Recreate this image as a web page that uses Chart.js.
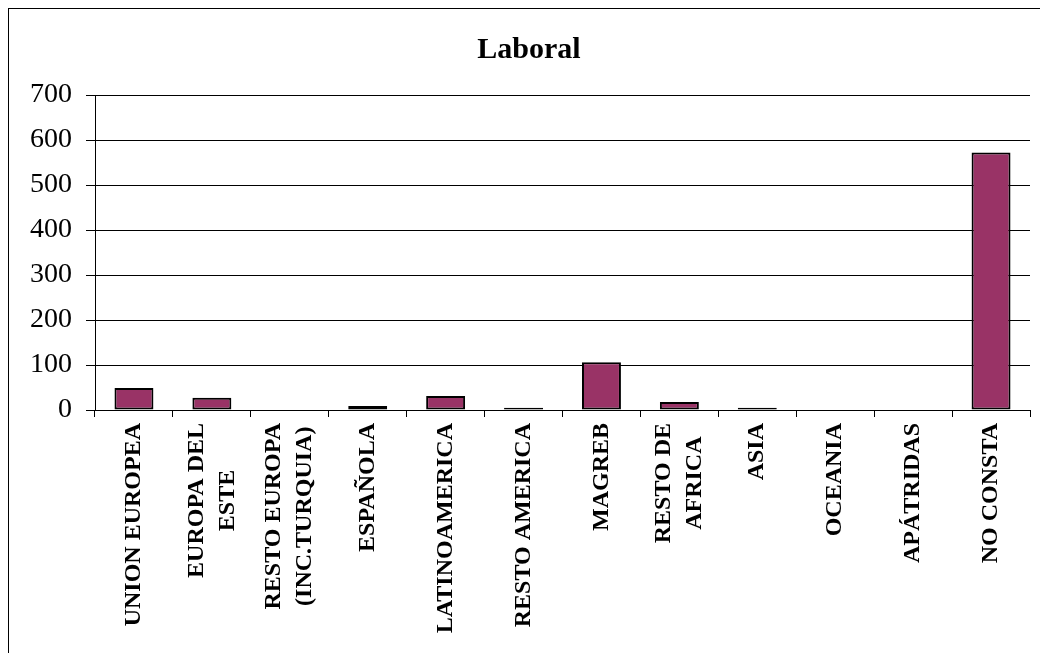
<!DOCTYPE html>
<html>
<head>
<meta charset="utf-8">
<script src="https://cdn.jsdelivr.net/npm/chart.js@4.4.1/dist/chart.umd.min.js"></script>
<style>
  html, body { margin: 0; padding: 0; background: #fff; }
  canvas { display: block; }
</style>
</head>
<body>
<canvas id="chart" width="1040" height="653"></canvas>
<script>
const categories = [
  'UNION EUROPEA',
  ['EUROPA DEL', 'ESTE'],
  ['RESTO EUROPA', '(INC.TURQUIA)'],
  'ESPAÑOLA',
  'LATINOAMERICA',
  'RESTO AMERICA',
  'MAGREB',
  ['RESTO DE', 'AFRICA'],
  'ASIA',
  'OCEANIA',
  'APÁTRIDAS',
  'NO CONSTA'
]
const laboral = [49, 27, 0, 9, 31, 5, 106, 18, 5, 0, 0, 572]
const yTicks = { min: 0, max: 700, step: 100 }

const serif = '"Liberation Serif", "Times New Roman", serif'

// white page plus the outer frame (only left/top edges are in view)
const frame = {
  id: 'frame',
  beforeDraw(chart) {
    const ctx = chart.ctx
    ctx.save()
    ctx.fillStyle = '#fff'
    ctx.fillRect(0, 0, chart.width, chart.height)
    ctx.strokeStyle = '#000'
    ctx.lineWidth = 1
    ctx.strokeRect(8.5, 8.5, chart.width + 20, chart.height + 20)
    ctx.restore()
  }
}

// vertical category labels, lines centred on each other like the original
const xLabels = {
  id: 'xLabels',
  afterDraw(chart) {
    const scale = chart.scales.x
    const ctx = chart.ctx
    const lh = 31
    ctx.save()
    ctx.font = 'bold 24px ' + serif
    ctx.fillStyle = '#000'
    ctx.textAlign = 'center'
    ctx.textBaseline = 'middle'
    categories.forEach((c, i) => {
      const lines = Array.isArray(c) ? c : [c]
      const w = Math.max(...lines.map(l => ctx.measureText(l).width))
      const x = scale.getPixelForTick(i)
      ctx.save()
      ctx.translate(x, scale.top + 13)
      ctx.rotate(-Math.PI / 2)
      lines.forEach((l, j) => {
        ctx.fillText(l, -w / 2, (j - (lines.length - 1) / 2) * lh)
      })
      ctx.restore()
    })
    ctx.restore()
  }
}

new Chart(document.getElementById('chart'), {
  type: 'bar',
  data: {
    labels: categories,
    datasets: [{
      data: laboral,
      backgroundColor: '#993366',
      borderColor: '#000',
      borderWidth: 2,
      borderSkipped: false,
      barPercentage: 0.5,
      categoryPercentage: 1
    }]
  },
  options: {
    responsive: false,
    animation: false,
    layout: { padding: { left: 28, right: 10, top: 0, bottom: 0 } },
    plugins: {
      legend: { display: false },
      tooltip: { enabled: false },
      title: {
        display: true,
        text: 'Laboral',
        color: '#000',
        font: { family: serif, size: 30, weight: 'bold' },
        padding: { top: 32, bottom: 27 }
      }
    },
    scales: {
      x: {
        offset: true,
        afterFit: s => { s.height = 243 },
        ticks: { display: false },
        grid: { drawOnChartArea: false, drawTicks: true, tickLength: 7, color: '#000', lineWidth: 1 },
        border: { color: '#000', width: 1 }
      },
      y: {
        min: yTicks.min,
        max: yTicks.max,
        afterFit: s => { s.width = 67 },
        ticks: {
          stepSize: yTicks.step,
          color: '#000',
          padding: 14,
          font: { family: serif, size: 28 }
        },
        grid: { color: '#000', lineWidth: 1, tickLength: 9 },
        border: { color: '#000', width: 1 }
      }
    }
  },
  plugins: [frame, xLabels]
})
</script>
</body>
</html>
